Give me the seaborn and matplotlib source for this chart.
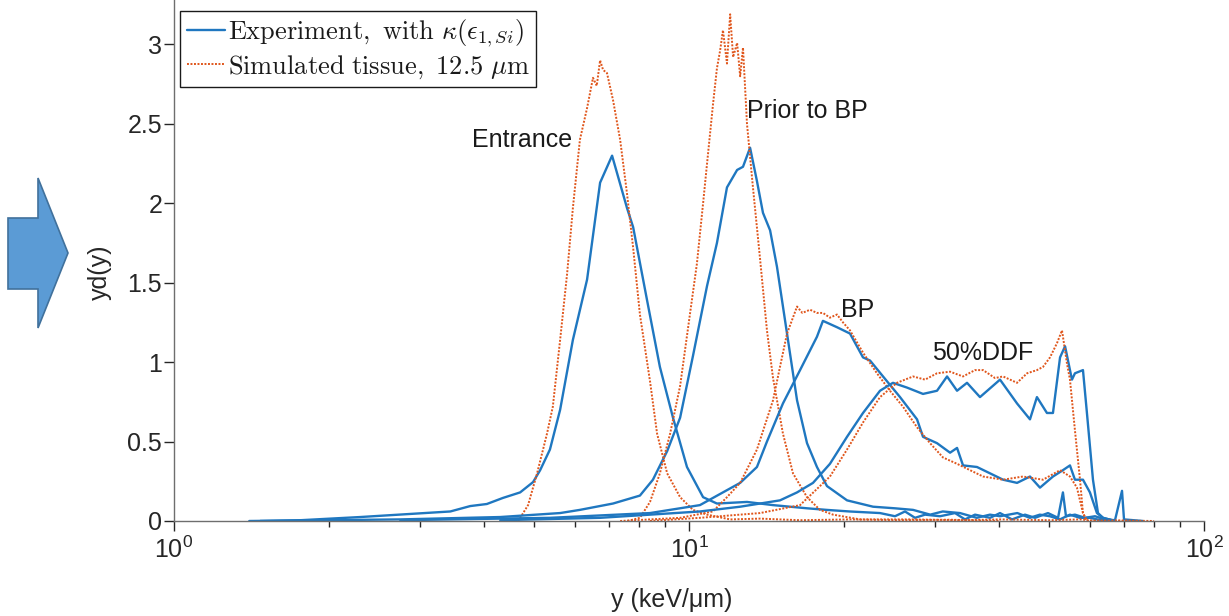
import matplotlib
matplotlib.use("Agg")
import matplotlib.pyplot as plt
import seaborn as sns
import numpy as np
from matplotlib.patches import Polygon
from matplotlib.lines import Line2D

# ---------------- data (y in keV/um, yd(y)) ----------------
ent_exp_x = [1.47, 1.76, 2.30, 3.44, 3.76, 4.05, 4.35, 4.70, 4.98, 5.14, 5.37, 5.62, 5.95, 6.34, 6.72, 7.09,
             7.58, 7.79, 8.29, 8.78, 9.31, 9.91, 10.65, 11.33, 12.96, 14.56, 16.95, 18.5, 20.5, 23.49, 25.12,
             26.27, 27.47, 28.73, 30.72, 32.85, 34.35, 35.92, 38.42, 40.17, 42.39, 44.92, 46.97, 49.78, 52.07,
             53.22, 53.95, 56.16, 58.74, 61.43, 64.25, 67.17, 69.31, 69.93, 76.13]
ent_exp_y = [0.0, 0.005, 0.025, 0.06, 0.094, 0.107, 0.145, 0.18, 0.245, 0.32, 0.45, 0.70, 1.14, 1.52, 2.13, 2.30,
             1.97, 1.85, 1.39, 0.97, 0.65, 0.34, 0.15, 0.11, 0.12, 0.10, 0.08, 0.07, 0.06, 0.05, 0.03,
             0.06, 0.02, 0.04, 0.03, 0.05, 0.01, 0.04, 0.02, 0.05, 0.01, 0.04, 0.02, 0.05, 0.02,
             0.18, 0.03, 0.04, 0.02, 0.03, 0.01, 0.005, 0.19, 0.01, 0.0]

ent_sim_x = [4.66, 4.87, 5.07, 5.30, 5.44, 5.62, 5.80, 5.95, 6.14, 6.34, 6.51, 6.62, 6.72, 6.81, 6.93, 7.12,
             7.35, 7.58, 7.79, 8.03, 8.40, 8.67, 9.07, 9.61, 10.18, 10.84, 12.02, 13.74, 16.43, 20.5, 25.7,
             32.1, 40.2]
ent_sim_y = [0.0, 0.10, 0.30, 0.55, 0.72, 1.14, 1.56, 1.97, 2.40, 2.60, 2.79, 2.74, 2.90, 2.84, 2.82, 2.65,
             2.40, 2.06, 1.72, 1.30, 0.88, 0.55, 0.30, 0.15, 0.07, 0.04, 0.01, 0.015, 0.005, 0.01, 0.005,
             0.008, 0.0]

pri_exp_x = [1.40, 2.75, 4.30, 5.62, 6.14, 7.12, 8.03, 8.51, 9.07, 9.61, 10.18, 10.84, 11.33, 11.85, 12.40,
             12.73, 13.14, 13.55, 13.92, 14.37, 14.82, 15.50, 16.21, 16.95, 17.72, 18.53, 20.27, 22.77, 25.1,
             27.23, 29.4, 31.1, 33.59, 36.2, 38.4, 40.17, 43.4, 45.9, 48.0, 50.2, 52.5, 54.9, 57.4, 60.05,
             62.0, 65.7]
pri_exp_y = [0.0, 0.01, 0.025, 0.05, 0.07, 0.11, 0.16, 0.26, 0.44, 0.65, 1.04, 1.48, 1.75, 2.10, 2.21,
             2.23, 2.35, 2.14, 1.94, 1.83, 1.60, 1.18, 0.76, 0.49, 0.34, 0.22, 0.13, 0.09, 0.08,
             0.07, 0.04, 0.06, 0.05, 0.02, 0.04, 0.03, 0.05, 0.02, 0.04, 0.03, 0.01, 0.04, 0.02, 0.02,
             0.01, 0.0]

pri_sim_x = [7.6, 8.03, 8.40, 8.78, 9.19, 9.61, 10.04, 10.36, 10.65, 10.84, 11.13, 11.33, 11.49, 11.64, 11.85,
             12.02, 12.18, 12.40, 12.57, 12.73, 12.96, 13.31, 13.74, 14.17, 14.56, 15.22, 15.92, 16.95, 17.96,
             19.04, 21.48, 27.2, 33.6, 40.2, 50.2, 57.4, 62.0]
pri_sim_y = [0.0, 0.02, 0.12, 0.30, 0.55, 0.85, 1.30, 1.62, 2.00, 2.25, 2.62, 2.85, 2.96, 3.09, 2.88,
             3.19, 2.92, 3.01, 2.80, 2.98, 2.50, 2.10, 1.65, 1.20, 0.90, 0.55, 0.30, 0.15, 0.07,
             0.04, 0.01, 0.01, 0.005, 0.01, 0.005, 0.01, 0.0]

bp_exp_x = [2.75, 5.37, 8.40, 10.50, 12.57, 13.55, 14.17, 15.22, 16.43, 17.72, 18.20, 19.38, 20.54, 21.77,
            22.47, 23.81, 25.69, 27.72, 28.47, 30.31, 32.13, 33.15, 34.05, 36.24, 38.42, 40.72, 43.35, 45.93,
            48.03, 50.90, 53.22, 54.92, 56.16, 58.21, 60.05, 61.96, 63.66, 67.17]
bp_exp_y = [0.005, 0.02, 0.05, 0.10, 0.24, 0.34, 0.50, 0.74, 0.95, 1.16, 1.26, 1.22, 1.18, 1.03,
            1.01, 0.91, 0.78, 0.64, 0.53, 0.49, 0.43, 0.46, 0.35, 0.34, 0.30, 0.26, 0.24, 0.28,
            0.21, 0.28, 0.32, 0.35, 0.26, 0.26, 0.18, 0.05, 0.02, 0.0]

bp_sim_x = [7.35, 9.61, 11.13, 11.85, 12.57, 13.55, 14.56, 15.02, 15.50, 16.21, 16.6, 17.18, 17.72, 18.20,
            18.78, 19.38, 19.91, 20.54, 21.77, 23.17, 24.56, 26.03, 27.72, 29.38, 31.13, 33.15, 35.13, 37.24,
            40.72, 44.51, 48.68, 52.54, 54.92, 56.66, 58.21, 59.25, 65.0, 75.0]
bp_sim_y = [0.0, 0.02, 0.06, 0.15, 0.24, 0.45, 0.76, 0.97, 1.18, 1.35, 1.31, 1.33, 1.31, 1.31,
            1.28, 1.30, 1.25, 1.20, 1.06, 0.93, 0.82, 0.72, 0.59, 0.49, 0.40, 0.36, 0.32, 0.28,
            0.26, 0.28, 0.26, 0.32, 0.28, 0.21, 0.05, 0.0, 0.003, 0.0]

ddf_exp_x = [4.30, 6.72, 10.50, 12.57, 15.02, 16.21, 17.41, 18.78, 20.27, 21.77, 23.49, 24.89, 26.50, 28.47,
             30.31, 31.70, 33.15, 34.66, 36.73, 40.17, 43.35, 45.93, 47.38, 49.55, 50.90, 52.54, 53.73, 55.41,
             56.16, 58.21, 59.25, 60.87, 62.25, 63.66, 67.17]
ddf_exp_y = [0.005, 0.02, 0.06, 0.09, 0.13, 0.18, 0.24, 0.36, 0.53, 0.68, 0.82, 0.87, 0.84, 0.80,
             0.82, 0.91, 0.82, 0.87, 0.78, 0.89, 0.74, 0.64, 0.78, 0.68, 0.68, 1.03, 1.10, 0.89,
             0.93, 0.95, 0.68, 0.26, 0.05, 0.02, 0.0]

ddf_sim_x = [8.40, 10.50, 13.74, 16.43, 18.78, 20.27, 21.77, 23.49, 25.34, 27.23, 28.73, 30.31, 32.13, 34.05,
             35.92, 37.24, 39.28, 40.72, 43.35, 45.34, 47.38, 48.68, 50.23, 51.83, 53.00, 54.20, 54.92, 56.16,
             57.44, 58.21, 59.25, 68.0, 80.0]
ddf_sim_y = [0.0, 0.02, 0.05, 0.10, 0.28, 0.45, 0.62, 0.78, 0.87, 0.91, 0.89, 0.93, 0.94, 0.91,
             0.95, 0.95, 0.90, 0.91, 0.87, 0.93, 0.95, 0.97, 1.03, 1.12, 1.20, 0.99, 0.89, 0.57,
             0.26, 0.05, 0.0, 0.003, 0.0]

legend_labels = [r"$\mathrm{Experiment,}\ \mathrm{with}\ \kappa(\epsilon_{1,Si})$",
                 r"$\mathrm{Simulated}\ \mathrm{tissue,}\ \mathrm{12.5}\ \mu\mathrm{m}$"]
annotations = [("Entrance", 4.74, 2.40), ("Prior to BP", 17.0, 2.58), ("BP", 21.3, 1.33), ("50%DDF", 37.2, 1.06)]
y_ticks = [0, 0.5, 1, 1.5, 2, 2.5, 3]
y_ticklabels = ["0", "0.5", "1", "1.5", "2", "2.5", "3"]

# ---------------- style ----------------
sns.set_style("ticks")
plt.rcParams["font.family"] = ["Liberation Sans", "DejaVu Sans"]

BLUE = "#1f77c0"
RED = "#e0561c"

fig = plt.figure(figsize=(12.29, 6.16), dpi=100)
W, H = 1229, 616
ax = fig.add_axes([174 / W, 1 - 521 / H, (1204 - 174) / W, 521 / H])

pairs = [(ent_exp_x, ent_exp_y, ent_sim_x, ent_sim_y),
         (pri_exp_x, pri_exp_y, pri_sim_x, pri_sim_y),
         (bp_exp_x, bp_exp_y, bp_sim_x, bp_sim_y),
         (ddf_exp_x, ddf_exp_y, ddf_sim_x, ddf_sim_y)]
for ex, ey, sx, sy in pairs:
    sns.lineplot(x=ex, y=ey, ax=ax, color=BLUE, lw=1.7, estimator=None, sort=False)
    sns.lineplot(x=sx, y=sy, ax=ax, color=RED, lw=1.4, linestyle=(0, (1, 0.8)), estimator=None, sort=False)

ax.set_xscale("log")
ax.set_xlim(1, 100)
ax.set_ylim(0, 3.28)
ax.set_yticks(y_ticks)
ax.set_yticklabels(y_ticklabels)

for s in ["top", "right"]:
    ax.spines[s].set_visible(False)
for s in ["left", "bottom"]:
    ax.spines[s].set_color("#6e6e6e")
    ax.spines[s].set_linewidth(1.0)

ax.tick_params(axis="both", which="major", direction="out", length=7, width=1.0, color="#262626",
               labelsize=18, labelcolor="#262626")
ax.tick_params(axis="y", which="major", pad=1.5)
ax.tick_params(axis="x", which="minor", direction="out", length=4.5, width=1.0, color="#262626")
ax.tick_params(axis="x", which="major", pad=4)

ax.set_xlabel("y (keV/\u03bcm)", fontsize=18, color="#262626")
ax.set_ylabel("yd(y)", fontsize=18, color="#262626")
ax.xaxis.set_label_coords(0.4835, -0.128)
ax.yaxis.set_label_coords(-0.060, 0.478)

for txt, xx, yy in annotations:
    ax.text(xx, yy, txt, fontsize=18, color="#1a1a1a", ha="center", va="center")

handles = [Line2D([], [], color=BLUE, lw=1.7), Line2D([], [], color=RED, lw=1.4, linestyle=(0, (1, 0.8)))]
leg = ax.legend(handles, legend_labels, loc="upper left", bbox_to_anchor=(0.006, 0.978),
                fontsize=19, frameon=True, fancybox=False, framealpha=1, edgecolor="#1a1a1a",
                handlelength=1.45, handletextpad=0.1, borderpad=0.25, labelspacing=0.15, borderaxespad=0)
leg.get_frame().set_linewidth(1.0)
for t in leg.get_texts():
    t.set_math_fontfamily("cm")
    t.set_color("#1a1a1a")

# blue arrow at the left of the figure
pts = [(8, 218), (38, 218), (38, 178), (68, 253), (38, 328), (38, 289), (8, 289)]
arrow = Polygon([(px / W, 1 - py / H) for px, py in pts], closed=True, transform=fig.transFigure,
                facecolor="#5b9bd5", edgecolor="#41719c", lw=1.2)
fig.patches.append(arrow)

fig.savefig("out.png", dpi=100, facecolor="white")
